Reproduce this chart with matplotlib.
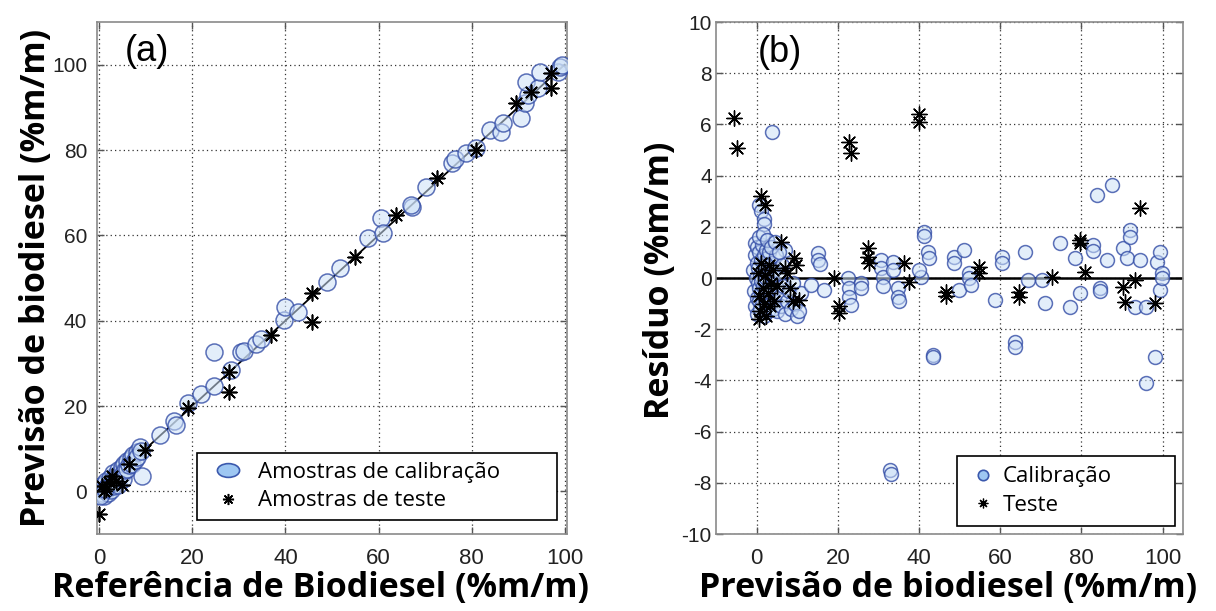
import matplotlib
matplotlib.use("Agg")
import matplotlib.pyplot as plt
from matplotlib.lines import Line2D
from matplotlib.path import Path
from matplotlib.transforms import Affine2D

# ---------------- data: panel (a) ----------------
cal_ref_a = [0, 0, 0.3, 0.5, 0.7, 1, 1, 1.2, 1.5, 1.5, 1.8, 2, 2, 2.3, 2.5, 2.7, 3, 3, 3, 3.4, 3.6,
             4, 4, 4, 4.4, 4.8, 5, 5, 5.3, 5.6, 6, 6, 6.4, 6.8, 7, 7.3, 7.6, 8, 8.2, 8.7, 9, 9.1, 0.2, 1.2,
             13, 16, 16.5, 19, 21.9, 24.7, 24.7, 28.3, 30.4, 31, 33.6, 34.7,
             39.6, 40, 42.8, 48.9, 51.7, 57.7, 60.6, 60.9, 67.2, 67, 70.2, 75.7, 76.5, 78.7, 81,
             84, 86.4, 86.8, 90.6, 91.5, 92.1, 91.7, 94.3, 94.7, 98.5, 99.1, 99.5]
cal_pred_a = [0.5, -0.8, 1.2, -0.3, 0.4, 1.8, -1, 0.2, 2.4, 0.8, -0.4, 2, 1, 3.2, 0.3, 1.9, 4.2, 2.8, 1.2, 2.2, 3.8,
              5, 3, 1.6, 4.3, 5.8, 4.2, 2.8, 6.3, 5, 7, 5.2, 6.2, 7.8, 6.3, 8.5, 7.3, 9.2, 8, 10.5, 9.5, 3.5, -1, 0.5,
              13.3, 16.4, 15.5, 20.8, 22.7, 24.6, 32.7, 28.5, 32.7, 33, 34.6, 35.8,
              40.2, 43.3, 42.1, 49.1, 52.4, 59.4, 64.1, 60.6, 66.7, 67.1, 71.3, 77, 78, 79.3, 80.5,
              84.7, 84.2, 86.3, 87.5, 91, 92.9, 95.9, 94.5, 98.2, 98.2, 99.4, 100]

test_ref_a = [0, 0.6, 1, 1.5, 2, 2.8, 3.5, 4.9, 6.4, 9.8, 19.1, 27.9, 27.9, 36.8, 45.7, 45.7, 54.9, 63.8,
              72.6, 80.9, 89.6, 92.8, 97, 97]
test_pred_a = [-5.4, 1.2, 0, 0.5, 2.2, 3.5, 2.5, 1.6, 6.3, 9.8, 19.6, 28, 23.2, 36.7, 46.5, 39.8, 55, 64.8,
               73.5, 80, 91, 93.6, 98, 94.5]

# ---------------- data: panel (b) ----------------
cal_pred_b = [3.7, 0.7, 1.2, 1.7, 1.7, -0.5, 2.5, 6.9,
              -0.8, -0.6, -0.4, -0.3, -0.2, 0, 0, 0.1, 0.2, 0.3, 0.4, 0.5, 0.6, 0.7, 0.8, 0.9, 1.0, 1.1,
              1.2, 1.3, 1.4, 1.5, 1.6, 1.7, 1.8, 1.9, 2.0, 2.1, 2.2, 2.3, 2.4, 2.5, 2.6, 2.7, 2.8, 2.9,
              3.0, 3.1, 3.2, 3.3, 3.5, 3.6, 3.8, 4.0, 4.1, 4.3, 4.5, 4.7, 4.9, 5.1, 5.4, 5.7, 6.0, 6.3,
              6.6, 7.0, 7.4, 8.0, 8.4, 9.0, 9.5, 10.0, 10.5, 11, 0.5, 1.5, 2.5, 3.5, 4.5, 5.5,
              15.2, 15.2, 15.5, 13.5, 16.7, 22.5, 22.8, 22.8, 23.3, 25.7, 25.7,
              30.6, 30.6, 31.1, 31.1, 33.6, 33.6, 34.8, 34.8, 35, 40.4, 40, 41.2, 41.2, 42.2, 42.5,
              43.4, 43.4, 32.8, 33.0,
              48.5, 48.5, 49.8, 51, 52.2, 52.2, 52.7, 58.8, 60.5, 60.5, 63.7, 63.7, 66.2, 66.9, 70.3,
              71.1, 74.8, 77.2, 78.4, 79.7, 82.8, 82.8, 83.8, 84.6, 84.6, 86.3, 87.5,
              90.2, 91.2, 91.9, 91.9, 93.1, 94.4, 96, 96, 98, 98.5, 99.3, 99.3, 99.8, 99.8]
cal_res_b = [5.7, 2.85, 2.6, 2.3, 2.1, 1.37, 1.5, 1.1,
             0.3, -0.5, 0.9, -1.1, 0.0, -0.8, 1.2, 0.6, -1.4, -0.2, 0.4, -0.9, 1.0, -0.4, 0.1, -1.2, 0.7, -0.6,
             -0.1, 1.3, -1.0, 0.3, -0.3, 0.9, -1.5, -0.7, 0.5, -0.2, 1.1, -1.1, 0.0, -0.5, 0.8, -1.3, 0.2, -0.8,
             1.0, -0.4, 0.4, -1.0, 0.1, -0.6, 0.6, -1.2, -0.2, 0.3, -0.9, 0.9, -0.4, -1.3, 0.2, -0.7, -1.1, 0.5,
             -0.3, -1.4, -0.9, -0.5, -1.2, -0.2, -1.0, -1.5, -1.3, -0.6, 1.6, 1.7, 1.5, 1.2, 1.4, 1.0,
             0.97, 0.7, 0.55, -0.27, -0.47, 0, -0.4, -0.73, -1.05, -0.2, -0.4,
             0.7, 0.4, 0.04, -0.3, 0.63, 0.33, -0.4, -0.73, -0.9, 0.04, 0.3, 1.8, 1.65, 1.0, 0.8,
             -3.0, -3.1, -7.5, -7.65,
             0.82, 0.6, -0.47, 1.1, 0.2, 0, -0.27, -0.86, 0.82, 0.6, -2.5, -2.7, 1.0, -0.08, -0.08,
             -0.98, 1.37, -1.13, 0.78, -0.58, 1.3, 1.05, 3.24, -0.4, -0.5, 0.7, 3.63,
             1.17, 0.78, 1.87, 1.6, -1.13, 0.7, -1.13, -4.1, -3.1, 0.63, 1.02, -0.47, 0.2, 0]

test_pred_b = [-5.6, -4.9, 22.8, 23.3, 40, 40,
               1.2, 2, 6.1, 9.3, 9.8, 10.5, 6.9,
               0.3, 0.6, 0.9, 1.2, 1.5, 1.8, 2.1, 2.4, 2.7, 3.0, 3.3, 3.6, 4.0, 4.4, 5.0, 7.5, 8.2, 9.0, 0.5,
               19.1, 20.3, 20.3, 27.4, 27.4, 27.6, 36.3, 37.5,
               46.6, 46.6, 54.7, 54.7, 64.5, 64.5, 72.8, 79.7, 79.7, 80.9,
               90.2, 90.7, 93.1, 94.4, 98]
test_res_b = [6.25, 5.08, 5.3, 4.9, 6.4, 6.1,
              3.2, 2.85, 1.4, 0.8, 0.5, -0.85, 0.4,
              0.2, -0.7, -1.3, 0.6, -0.4, -1.0, 0.1, -1.5, -0.6, 0.5, -1.1, -0.2, 0.3, -0.9, -0.3, 0.2, -0.4, -0.9, -1.6,
              0, -1.37, -1.1, 1.17, 0.83, 0.6, 0.58, -0.15,
              -0.55, -0.7, 0.43, 0.2, -0.73, -0.55, 0.04, 1.48, 1.35, 0.23,
              -0.35, -0.94, -0.08, 2.73, -0.98]

xticks_a = [0, 20, 40, 60, 80, 100]
yticks_a = [0, 20, 40, 60, 80, 100]
xticks_b = [0, 20, 40, 60, 80, 100]
yticks_b = [-10, -8, -6, -4, -2, 0, 2, 4, 6, 8, 10]

# ---------------- style ----------------
plt.rcParams['axes.unicode_minus'] = False
TICK_FAM = ['Liberation Sans', 'DejaVu Sans']
LABFONT = dict(family=['Open Sans', 'DejaVu Sans'], size=24.5, weight='bold')
LEGFONT = {'family': ['Open Sans', 'DejaVu Sans'], 'size': 16}

CAL_FACE = (0.80, 0.88, 0.97, 0.55)
CAL_EDGE = (0.20, 0.30, 0.65, 0.8)
STAR = (8, 2, 0)

W, H = 1216, 611
fig = plt.figure(figsize=(W / 100, H / 100), dpi=100)

def frac_ax(l, r, t, b):
    return fig.add_axes([l / W, 1 - b / H, (r - l) / W, (b - t) / H])

ax_a = frac_ax(97, 567, 22, 534)
ax_b = frac_ax(716, 1183, 22, 534)

def style(ax, xt, yt, ypad):
    ax.set_xticks(xt)
    ax.set_yticks(yt)
    ax.grid(True, color='#333333', linestyle=(0, (1, 2.5)), linewidth=0.9)
    ax.set_axisbelow(True)
    for s in ax.spines.values():
        s.set_color('#8a8a8a')
        s.set_linewidth(1.2)
    ax.tick_params(direction='in', length=5, width=1, color='#555555',
                   top=True, right=True)
    ax.tick_params(axis='x', labelsize=16, pad=10)
    ax.tick_params(axis='y', labelsize=15, pad=ypad)
    for lab in ax.get_xticklabels() + ax.get_yticklabels():
        lab.set_fontfamily(TICK_FAM)
        lab.set_color('#222222')

# ---- panel (a) ----
ax_a.set_xlim(-0.5, 100.5)
ax_a.set_ylim(-10, 110)
style(ax_a, xticks_a, yticks_a, 7)
ax_a.plot([0, 100], [0, 100], color='black', linewidth=1.3, zorder=2)
ax_a.scatter(cal_ref_a, cal_pred_a, s=150, facecolors=[CAL_FACE], edgecolors=[CAL_EDGE],
             linewidths=1.1, zorder=3)
ax_a.scatter(test_ref_a, test_pred_a, s=110, marker=STAR, color='black', linewidths=1.2, zorder=4)
ax_a.text(0.106, 0.943, '(a)', transform=ax_a.transAxes, fontsize=26,
          family=['Liberation Sans', 'DejaVu Sans'], ha='center', va='center')

ellipse = Path.unit_circle().transformed(Affine2D().scale(1.0, 0.62))
h1 = Line2D([], [], linestyle='none', marker=ellipse, markersize=16, markerfacecolor=(0.62, 0.78, 0.95),
            markeredgecolor=(0.23, 0.35, 0.68), markeredgewidth=1.2)
h2 = Line2D([], [], linestyle='none', marker=STAR, markersize=8, color='black', markeredgewidth=1.1)
leg = ax_a.legend([h1, h2], ['Amostras de calibração', 'Amostras de teste'],
                  loc='lower left', bbox_to_anchor=(0.213, 0.027, 0.766, 0.127), mode='expand',
                  borderaxespad=0, prop=LEGFONT, fancybox=False, framealpha=1,
                  edgecolor='black', handletextpad=0.35, labelspacing=0.33, borderpad=0.4,
                  handlelength=2.0)
leg.get_frame().set_linewidth(1.2)

# ---- panel (b) ----
ax_b.set_xlim(-10, 105)
ax_b.set_ylim(-10, 10)
style(ax_b, xticks_b, yticks_b, 3)
ax_b.axhline(0, color='black', linewidth=1.8, zorder=2)
ax_b.scatter(cal_pred_b, cal_res_b, s=100, facecolors=[CAL_FACE], edgecolors=[CAL_EDGE],
             linewidths=1.1, zorder=3)
ax_b.scatter(test_pred_b, test_res_b, s=120, marker=STAR, color='black', linewidths=1.0, zorder=4)
ax_b.text(0.137, 0.941, '(b)', transform=ax_b.transAxes, fontsize=26,
          family=['Liberation Sans', 'DejaVu Sans'], ha='center', va='center')
h3 = Line2D([], [], linestyle='none', marker='o', markersize=7.5, markerfacecolor=(0.62, 0.78, 0.95),
            markeredgecolor=(0.23, 0.35, 0.68), markeredgewidth=1.2)
h4 = Line2D([], [], linestyle='none', marker=STAR, markersize=7, color='black', markeredgewidth=0.9)
leg2 = ax_b.legend([h3, h4], ['Calibração', 'Teste'],
                   loc='lower left', bbox_to_anchor=(0.516, 0.016, 0.467, 0.136), mode='expand',
                   borderaxespad=0, prop=LEGFONT, fancybox=False, framealpha=1,
                   edgecolor='black', handletextpad=0.2, labelspacing=0.33, borderpad=0.45,
                   handlelength=1.4)
leg2.get_frame().set_linewidth(1.2)

# ---- axis labels ----
fig.text(320 / W, 1 - 588 / H, 'Referência de Biodiesel (%m/m)', ha='center', va='center', **LABFONT)
fig.text(36 / W, 1 - 278 / H, 'Previsão de biodiesel (%m/m)', ha='center', va='center', rotation=90, **LABFONT)
fig.text(948 / W, 1 - 588 / H, 'Previsão de biodiesel (%m/m)', ha='center', va='center', **LABFONT)
fig.text(660 / W, 1 - 280 / H, 'Resíduo (%m/m)', ha='center', va='center', rotation=90, **LABFONT)

fig.savefig('out.png', dpi=100)
